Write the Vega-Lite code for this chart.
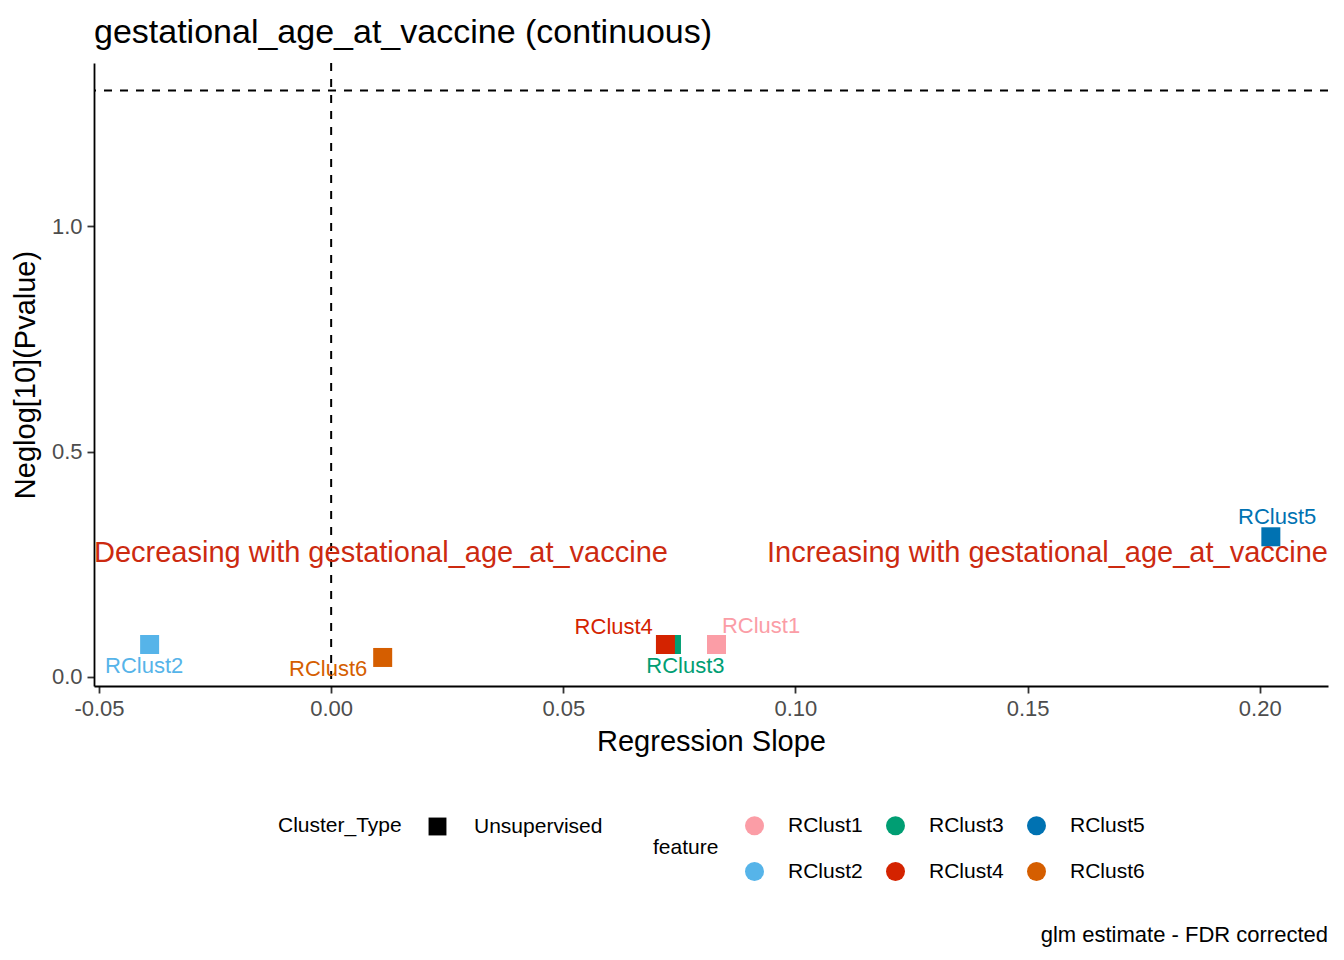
{
  "$schema": "https://vega.github.io/schema/vega-lite/v6.json",
  "width": 1234,
  "height": 623,
  "padding": {"left": 11, "top": 16, "right": 12, "bottom": 10},
  "background": "white",
  "title": {
    "text": "gestational_age_at_vaccine (continuous)",
    "anchor": "start",
    "frame": "group",
    "fontSize": 34,
    "fontWeight": "normal",
    "color": "black",
    "offset": 12
  },
  "datasets": {
    "points": [
      {"feature": "RClust1", "Cluster_Type": "Unsupervised", "slope": 0.0830, "neglog_p": 0.0721},
      {"feature": "RClust2", "Cluster_Type": "Unsupervised", "slope": -0.0391, "neglog_p": 0.0721},
      {"feature": "RClust3", "Cluster_Type": "Unsupervised", "slope": 0.0733, "neglog_p": 0.0721},
      {"feature": "RClust4", "Cluster_Type": "Unsupervised", "slope": 0.0720, "neglog_p": 0.0721},
      {"feature": "RClust5", "Cluster_Type": "Unsupervised", "slope": 0.2024, "neglog_p": 0.311},
      {"feature": "RClust6", "Cluster_Type": "Unsupervised", "slope": 0.0111, "neglog_p": 0.0433}
    ],
    "annotations": [
      {"label": "Decreasing with gestational_age_at_vaccine", "x": -0.05108, "y": 0.276, "side": "left"},
      {"label": "Increasing with gestational_age_at_vaccine", "x": 0.21471, "y": 0.276, "side": "right"}
    ]
  },
  "layer": [
    {
      "data": {"values": [{"cut": 1.30103}]},
      "mark": {"type": "rule", "color": "black", "strokeWidth": 2, "strokeDash": [8, 8]},
      "encoding": {"y": {"field": "cut", "type": "quantitative"}}
    },
    {
      "data": {"values": [{"zero": 0}]},
      "mark": {"type": "rule", "color": "black", "strokeWidth": 2, "strokeDash": [8, 8]},
      "encoding": {"x": {"field": "zero", "type": "quantitative"}}
    },
    {
      "data": {"name": "points"},
      "mark": {"type": "point", "filled": true, "opacity": 1, "size": 361, "color": "black"},
      "encoding": {
        "x": {
          "field": "slope",
          "type": "quantitative",
          "title": "Regression Slope",
          "scale": {"domain": [-0.05108, 0.21471], "nice": false, "zero": false},
          "axis": {"values": [-0.05, 0, 0.05, 0.1, 0.15, 0.2], "format": ".2f", "labelExpr": "replace(datum.label, '\u2212', '-')"}
        },
        "y": {
          "field": "neglog_p",
          "type": "quantitative",
          "title": "Neglog[10](Pvalue)",
          "scale": {"domain": [-0.02, 1.362], "nice": false, "zero": false},
          "axis": {"values": [0, 0.5, 1], "format": ".1f"}
        },
        "shape": {
          "field": "Cluster_Type",
          "type": "nominal",
          "scale": {"range": ["square"]},
          "legend": {
            "title": "Cluster_Type",
            "orient": "none",
            "legendX": 184,
            "legendY": 753,
            "titleOrient": "left",
            "titlePadding": 25,
            "symbolSize": 320,
            "symbolFillColor": "black",
            "symbolStrokeWidth": 0,
            "labelOffset": 26
          }
        },
        "color": {
          "field": "feature",
          "type": "nominal",
          "scale": {
            "domain": ["RClust1", "RClust2", "RClust3", "RClust4", "RClust5", "RClust6"],
            "range": ["#FB9DA6", "#56B4E9", "#009E73", "#D42300", "#0072B2", "#D55E00"]
          },
          "legend": {
            "title": "feature",
            "orient": "none",
            "legendX": 559,
            "legendY": 752,
            "columns": 3,
            "titleOrient": "left",
            "titleAnchor": "middle",
            "titlePadding": 25,
            "symbolType": "circle",
            "symbolSize": 361,
            "symbolStrokeWidth": 0,
            "labelOffset": 23,
            "columnPadding": 22,
            "rowPadding": 24
          }
        }
      }
    },
    {
      "data": {"name": "points"},
      "transform": [{"filter": "datum.feature === 'RClust1'"}],
      "mark": {"type": "text", "fontSize": 22, "baseline": "middle", "align": "center", "dx": 44.5, "dy": -18},
      "encoding": {
        "x": {"field": "slope", "type": "quantitative"},
        "y": {"field": "neglog_p", "type": "quantitative"},
        "text": {"field": "feature"},
        "color": {"field": "feature", "type": "nominal", "legend": null}
      }
    },
    {
      "data": {"name": "points"},
      "transform": [{"filter": "datum.feature === 'RClust2'"}],
      "mark": {"type": "text", "fontSize": 22, "baseline": "middle", "align": "center", "dx": -5.5, "dy": 22},
      "encoding": {
        "x": {"field": "slope", "type": "quantitative"},
        "y": {"field": "neglog_p", "type": "quantitative"},
        "text": {"field": "feature"},
        "color": {"field": "feature", "type": "nominal", "legend": null}
      }
    },
    {
      "data": {"name": "points"},
      "transform": [{"filter": "datum.feature === 'RClust3'"}],
      "mark": {"type": "text", "fontSize": 22, "baseline": "middle", "align": "center", "dx": 14, "dy": 22},
      "encoding": {
        "x": {"field": "slope", "type": "quantitative"},
        "y": {"field": "neglog_p", "type": "quantitative"},
        "text": {"field": "feature"},
        "color": {"field": "feature", "type": "nominal", "legend": null}
      }
    },
    {
      "data": {"name": "points"},
      "transform": [{"filter": "datum.feature === 'RClust4'"}],
      "mark": {"type": "text", "fontSize": 22, "baseline": "middle", "align": "center", "dx": -51.7, "dy": -17.5},
      "encoding": {
        "x": {"field": "slope", "type": "quantitative"},
        "y": {"field": "neglog_p", "type": "quantitative"},
        "text": {"field": "feature"},
        "color": {"field": "feature", "type": "nominal", "legend": null}
      }
    },
    {
      "data": {"name": "points"},
      "transform": [{"filter": "datum.feature === 'RClust5'"}],
      "mark": {"type": "text", "fontSize": 22, "baseline": "middle", "align": "center", "dx": 6.3, "dy": -20},
      "encoding": {
        "x": {"field": "slope", "type": "quantitative"},
        "y": {"field": "neglog_p", "type": "quantitative"},
        "text": {"field": "feature"},
        "color": {"field": "feature", "type": "nominal", "legend": null}
      }
    },
    {
      "data": {"name": "points"},
      "transform": [{"filter": "datum.feature === 'RClust6'"}],
      "mark": {"type": "text", "fontSize": 22, "baseline": "middle", "align": "center", "dx": -54.5, "dy": 12},
      "encoding": {
        "x": {"field": "slope", "type": "quantitative"},
        "y": {"field": "neglog_p", "type": "quantitative"},
        "text": {"field": "feature"},
        "color": {"field": "feature", "type": "nominal", "legend": null}
      }
    },
    {
      "data": {"name": "annotations"},
      "transform": [{"filter": "datum.side === 'left'"}],
      "mark": {"type": "text", "fontSize": 29, "baseline": "middle", "align": "left", "color": "#CC2A10"},
      "encoding": {
        "x": {"field": "x", "type": "quantitative"},
        "y": {"field": "y", "type": "quantitative"},
        "text": {"field": "label"}
      }
    },
    {
      "data": {"name": "annotations"},
      "transform": [{"filter": "datum.side === 'right'"}],
      "mark": {"type": "text", "fontSize": 29, "baseline": "middle", "align": "right", "color": "#CC2A10"},
      "encoding": {
        "x": {"field": "x", "type": "quantitative"},
        "y": {"field": "y", "type": "quantitative"},
        "text": {"field": "label"}
      }
    },
    {
      "data": {"values": [{"caption": "glm estimate - FDR corrected"}]},
      "mark": {"type": "text", "fontSize": 22, "baseline": "middle", "align": "right", "color": "black"},
      "encoding": {
        "x": {"datum": 0.21471, "type": "quantitative"},
        "y": {"datum": -0.5716, "type": "quantitative"},
        "text": {"field": "caption"}
      }
    }
  ],
  "config": {
    "font": "Liberation Sans",
    "view": {"stroke": null},
    "axis": {
      "grid": false,
      "domainColor": "black",
      "domainWidth": 1.8,
      "tickColor": "#333333",
      "tickWidth": 1.8,
      "tickSize": 7,
      "labelColor": "#4D4D4D",
      "labelFontSize": 22,
      "labelPadding": 5,
      "titleColor": "black",
      "titleFontSize": 29,
      "titleFontWeight": "normal"
    },
    "axisX": {"titlePadding": 8},
    "axisY": {"titlePadding": 11},
    "legend": {
      "labelFontSize": 21,
      "titleFontSize": 21,
      "titleFontWeight": "normal",
      "labelColor": "black",
      "titleColor": "black"
    }
  }
}
